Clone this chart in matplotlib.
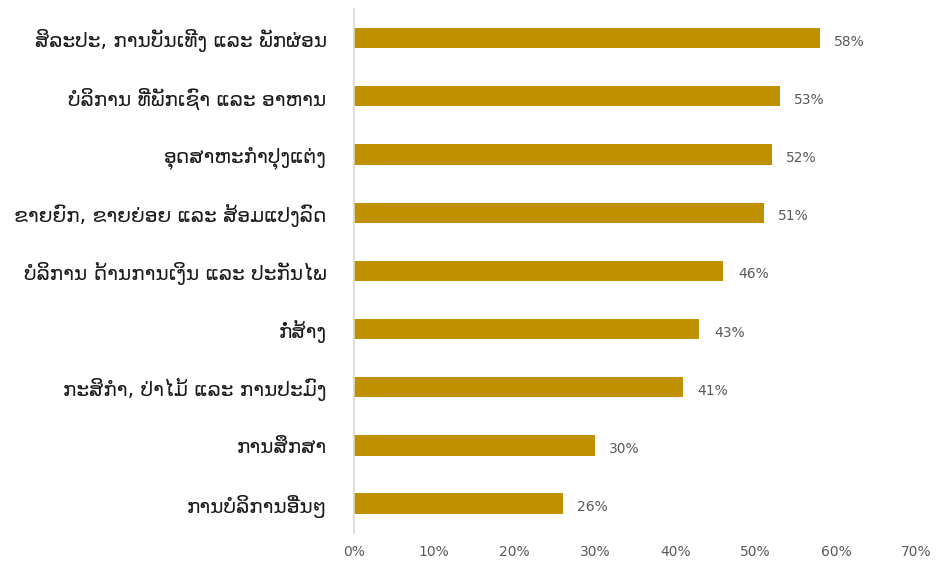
import matplotlib
matplotlib.use("Agg")
import matplotlib.pyplot as plt
from matplotlib.ticker import FuncFormatter

plt.rcParams['font.family'] = ['DejaVu Sans']

categories = [
    "ສິລະປະ, ການບັນເທີງ ແລະ ພັກຜ່ອນ",
    "ບໍລິການ ທີ່ພັກເຊົາ ແລະ ອາຫານ",
    "ອຸດສາຫະກໍາປຸງແຕ່ງ",
    "ຂາຍຍົກ, ຂາຍຍ່ອຍ ແລະ ສ້ອມແປງລົດ",
    "ບໍລິການ ດ້ານການເງິນ ແລະ ປະກັນໄພ",
    "ກໍ່ສ້າງ",
    "ກະສິກໍາ, ປ່າໄມ້ ແລະ ການປະມົງ",
    "ການສຶກສາ",
    "ການບໍລິການອື່ນໆ",
]
values = [0.58, 0.53, 0.52, 0.51, 0.46, 0.43, 0.41, 0.30, 0.26]
xticks = [0, 0.1, 0.2, 0.3, 0.4, 0.5, 0.6, 0.7]

fig = plt.figure(figsize=(9.36, 5.62), dpi=100)
ax = fig.add_axes([0.378, 0.052, 0.601, 0.932])

ypos = list(range(len(categories)))
ax.barh(ypos, values, height=0.35, color='#BF9000')
ax.set_ylim(len(categories) - 0.5, -0.5)
ax.set_xlim(0, 0.7)

for y, v in zip(ypos, values):
    ax.text(v + 0.018, y + 0.06, f"{round(v*100)}%", va='center', ha='left',
            fontsize=10, color='#595959')

ax.set_yticks(ypos)
ax.set_yticklabels(categories, fontsize=14.5, color='#1a1a1a')
ax.set_xticks(xticks)
ax.xaxis.set_major_formatter(FuncFormatter(lambda x, p: f"{round(x*100)}%"))
ax.tick_params(axis='x', length=0, labelsize=10, labelcolor='#595959', pad=9)
ax.tick_params(axis='y', length=0, pad=19.5)

for s in ['top', 'right', 'bottom']:
    ax.spines[s].set_visible(False)
ax.spines['left'].set_color('#D9D9D9')
ax.spines['left'].set_linewidth(1.2)

fig.savefig("out.png", dpi=100)
